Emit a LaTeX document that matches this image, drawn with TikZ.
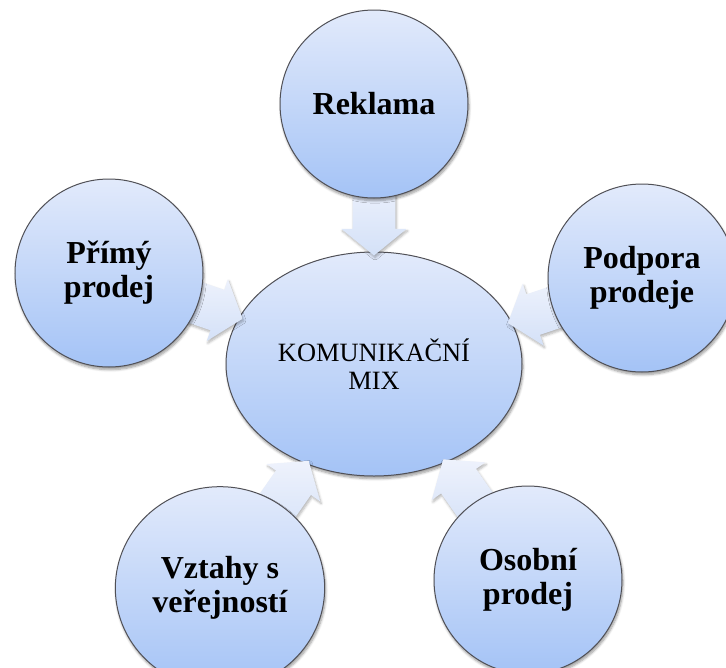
\documentclass[tikz,border=0pt]{standalone}
\usepackage{fontspec}
\setmainfont{Liberation Serif}
\usetikzlibrary{shapes.geometric,calc,shadows.blur}

\definecolor{cTop}{RGB}{226,234,251}
\definecolor{cBot}{RGB}{164,195,246}
\definecolor{aTop}{RGB}{238,242,252}
\definecolor{aBot}{RGB}{212,225,248}
\definecolor{rim}{RGB}{80,80,86}

\tikzset{
  bubble/.style={draw=rim, line width=0.75pt, top color=cTop, bottom color=cBot,
    blur shadow={shadow blur steps=6, shadow xshift=0.8pt, shadow yshift=-2pt, shadow opacity=40},
    align=center, inner sep=0pt},
  spoke/.style={bubble, circle, minimum size=141pt,
    font=\fontsize{24}{25.5}\selectfont\bfseries},
  hub/.style={bubble, ellipse, minimum width=222pt, minimum height=168pt,
    font=\fontsize{19.8}{21}\selectfont},
  feed/.style={top color=aTop, bottom color=aBot,
    blur shadow={shadow blur steps=5, shadow xshift=0.8pt, shadow yshift=-1.6pt, shadow opacity=30}}
}

% block arrow from the centre coordinate (#1-c) of a spoke into the hub ellipse
\newcommand\convarrow[1]{%
  \path let \p1=($(#1-c)-(mix.center)$), \n1={atan2(\y1,\x1)} in
    coordinate (#1-tip) at ($(mix.\n1)!3pt!(mix.center)$);
  \path coordinate (#1-s) at ($(#1-c)!55pt!(#1-tip)$)
        coordinate (#1-b) at ($(#1-tip)!20pt!(#1-c)$);
  \path[feed] ($(#1-s)!16pt!90:(#1-tip)$) -- ($(#1-b)!16pt!90:(#1-tip)$)
    -- ($(#1-b)!24.5pt!90:(#1-tip)$) -- (#1-tip)
    -- ($(#1-b)!24.5pt!-90:(#1-tip)$) -- ($(#1-b)!16pt!-90:(#1-tip)$)
    -- ($(#1-s)!16pt!-90:(#1-tip)$) -- cycle;
}

\begin{document}
\begin{tikzpicture}[x={(0.75pt,0)}, y={(0,-0.75pt)}]
  \useasboundingbox (0,0) rectangle (726,668);

  % centres of the five outer bubbles
  \coordinate (rek-c) at (374,104);
  \coordinate (pri-c) at (109,273);
  \coordinate (pod-c) at (642,278);
  \coordinate (vzt-c) at (220,588);
  \coordinate (oso-c) at (528,580);

  % hub, then arrows, then the outer bubbles on top
  \node[hub] (mix) at (374,364) {KOMUNIKAČNÍ\\MIX};

  \convarrow{rek}
  \convarrow{pri}
  \convarrow{pod}
  \convarrow{vzt}
  \convarrow{oso}

  \node[spoke] (rek) at (rek-c) {Reklama};
  \node[spoke] (pri) at (pri-c) {Přímý\\prodej};
  \node[spoke] (pod) at (pod-c) {Podpora\\prodeje};
  \node[spoke, ellipse, minimum width=157pt, minimum height=152pt] (vzt) at (vzt-c) {Vztahy s\\veřejností};
  \node[spoke] (oso) at (oso-c) {Osobní\\prodej};
\end{tikzpicture}
\end{document}
